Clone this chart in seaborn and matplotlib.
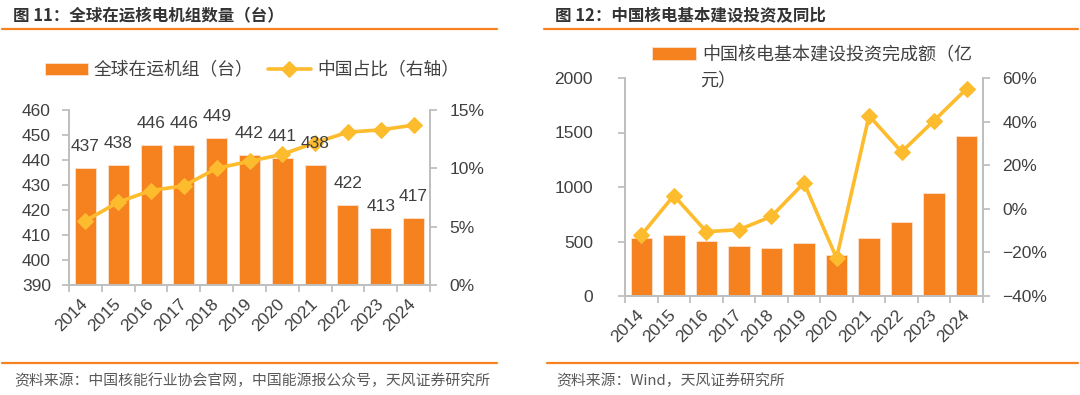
import numpy as np
import matplotlib.pyplot as plt
import seaborn as sns
from matplotlib.lines import Line2D
from matplotlib.ticker import PercentFormatter, MultipleLocator

# data
years = ['2014', '2015', '2016', '2017', '2018', '2019', '2020', '2021', '2022', '2023', '2024']
units = [437, 438, 446, 446, 449, 442, 441, 438, 422, 413, 417]
china_share = [5.5, 7.1, 8.1, 8.5, 10.0, 10.6, 11.2, 12.2, 13.1, 13.3, 13.7]
invest = [530, 564, 503, 455, 439, 488, 376, 536, 676, 945, 1464]
invest_yoy = [-12.1, 6.1, -10.5, -9.6, -3.5, 11.9, -22.6, 42.7, 26.1, 40.5, 55.1]

ORANGE = '#F5821F'
GOLD = '#FDBB2E'
GRAY = '#BFBFBF'
TXT = '#404040'
CJK = ['Noto Sans CJK SC', 'DejaVu Sans']

sns.set_theme(style='white')
plt.rcParams['font.family'] = ['Liberation Sans', 'Noto Sans CJK SC', 'DejaVu Sans']
plt.rcParams['axes.unicode_minus'] = True

W, H = 1080, 395
fig = plt.figure(figsize=(W / 100, H / 100), dpi=100)


def box(x0, y0, x1, y1):
    # pixel box -> figure fraction rect
    return [x0 / W, 1 - y1 / H, (x1 - x0) / W, (y1 - y0) / H]


def hline(x0, x1, y):
    fig.add_artist(Line2D([x0 / W, x1 / W], [1 - y / H, 1 - y / H],
                          transform=fig.transFigure, color=ORANGE, lw=1.6))


def style(ax, axr, lpad, rpad):
    for a in (ax, axr):
        a.spines['top'].set_visible(False)
        for s in ('left', 'right', 'bottom'):
            a.spines[s].set_color(GRAY)
            a.spines[s].set_linewidth(1.3)
        a.grid(False)
    ax.tick_params(axis='y', left=True, length=5, width=1.3, color=GRAY,
                   labelsize=12.5, labelcolor=TXT, pad=lpad)
    axr.tick_params(axis='y', right=True, length=5, width=1.3, color=GRAY,
                    labelsize=12.5, labelcolor=TXT, pad=rpad)
    ax.set_xlim(-0.5, len(years) - 0.5)
    ax.set_xticks(np.arange(len(years)))
    ax.set_xticks(np.arange(-0.5, len(years), 1), minor=True)
    ax.set_xticklabels(years, rotation=45, ha='right', va='center',
                       rotation_mode='anchor')
    ax.tick_params(axis='x', which='major', bottom=False, length=0,
                   labelsize=12.5, labelcolor=TXT, pad=12)
    ax.tick_params(axis='x', which='minor', bottom=True, length=5,
                   width=1.3, color=GRAY)
    ax.set_xlabel('')
    ax.set_ylabel('')
    axr.set_ylabel('')


# ---------- left: global operating reactors ----------
ax1 = fig.add_axes(box(69, 110, 430, 285))
sns.barplot(x=years, y=units, color=ORANGE, width=0.64, saturation=1,
            edgecolor='#FBE3CF', linewidth=0.6, ax=ax1)
ax1.set_ylim(390, 460)
ax1.yaxis.set_major_locator(MultipleLocator(10))

ax2 = ax1.twinx()
sns.lineplot(x=np.arange(len(years)), y=china_share, ax=ax2, color=GOLD,
             linewidth=2.6, marker='D', markersize=8, markeredgecolor=GOLD,
             legend=False)
ax2.set_ylim(0, 15)
ax2.yaxis.set_major_locator(MultipleLocator(5))
ax2.yaxis.set_major_formatter(PercentFormatter(decimals=0))
style(ax1, ax2, 8, 9)

# value labels sit on the twin axes so they are drawn above the line
for i, v in enumerate(units):
    ax2.annotate(f'{v}', xy=(i, v), xycoords=ax1.transData, xytext=(0, 10),
                 textcoords='offset points', ha='center', va='bottom',
                 fontsize=12.5, color=TXT, annotation_clip=False)

fig.legend([ax1.containers[0], ax2.lines[0]], ['全球在运机组（台）', '中国占比（右轴）'],
           loc='center', bbox_to_anchor=(252 / W, 1 - 70 / H), ncol=2,
           frameon=False, handlelength=2.4, handletextpad=0.35, columnspacing=0.8,
           prop={'family': CJK, 'size': 12.8}, labelcolor=TXT)

# ---------- right: China nuclear capex ----------
ax3 = fig.add_axes(box(625, 78, 983, 296))
sns.barplot(x=years, y=invest, color=ORANGE, width=0.66, saturation=1,
            edgecolor='#FBE3CF', linewidth=0.6, ax=ax3)
ax3.set_ylim(0, 2000)
ax3.yaxis.set_major_locator(MultipleLocator(500))

ax4 = ax3.twinx()
sns.lineplot(x=np.arange(len(years)), y=invest_yoy, ax=ax4, color=GOLD,
             linewidth=2.6, marker='D', markersize=8, markeredgecolor=GOLD,
             legend=False)
ax4.set_ylim(-40, 60)
ax4.yaxis.set_major_locator(MultipleLocator(20))
ax4.yaxis.set_major_formatter(PercentFormatter(decimals=0))
style(ax3, ax4, 18, 9)

# legend label wraps in the reference: first line beside the patch, second below
fig.legend([ax3.containers[0]], ['中国核电基本建设投资完成额（亿'],
           loc='center left', bbox_to_anchor=(636 / W, 1 - 55 / H),
           frameon=False, handlelength=2.4, handletextpad=0.35,
           prop={'family': CJK, 'size': 13}, labelcolor=TXT)
fig.text(700 / W, 1 - 81 / H, '元）', fontsize=13, color=TXT, va='center', family=CJK)

# ---------- titles, rules, sources ----------
fig.text(13 / W, 1 - 15 / H, '图 11：全球在运核电机组数量（台）', fontsize=11.9,
         fontweight='bold', color='#333333', va='center', family=CJK)
fig.text(555 / W, 1 - 15 / H, '图 12：中国核电基本建设投资及同比', fontsize=11.9,
         fontweight='bold', color='#333333', va='center', family=CJK)
hline(2, 497, 29)
hline(544, 1078, 29)
hline(2, 497, 363)
hline(547, 1078, 363)
fig.text(14 / W, 1 - 381 / H, '资料来源：中国核能行业协会官网，中国能源报公众号，天风证券研究所',
         fontsize=10.7, color='#595959', va='center', family=CJK)
fig.text(556 / W, 1 - 381 / H, '资料来源：Wind，天风证券研究所',
         fontsize=10.7, color='#595959', va='center', family=CJK)

fig.savefig('out.png', dpi=100)
